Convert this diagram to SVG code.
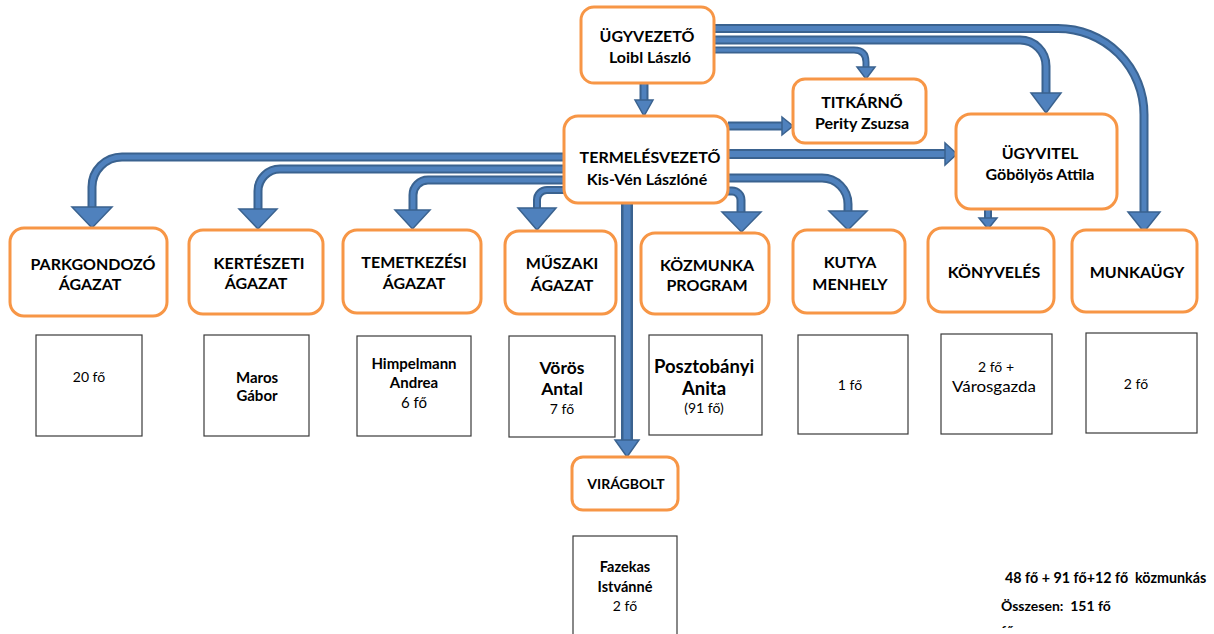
<svg xmlns="http://www.w3.org/2000/svg" width="1214" height="634" viewBox="0 0 1214 634">
<style>
text{font-family:Lato,"Liberation Sans",sans-serif;fill:#000;text-anchor:middle}
.b{font-weight:bold}
.nt{font-size:16px;font-weight:bold}
.node{fill:#fff;stroke:#F79646;stroke-width:3}
.box{fill:#fff;stroke:#3a3a3a;stroke-width:1.2}
.so{fill:none;stroke:#3A628F}
.si{fill:none;stroke:#4F81BD}
.hd{fill:#4F81BD;stroke:#3A628F;stroke-width:1.5;stroke-linejoin:miter}
</style>
<defs>
<clipPath id="clipBottom"><rect x="0" y="0" width="1214" height="628"/></clipPath>
</defs>
<rect width="1214" height="634" fill="#fff"/>

<g id="connectors">
  <!-- UGYVEZETO -> TERMELESVEZETO -->
  <path class="so" stroke-width="9" d="M644,83 V101"/><path class="si" stroke-width="5" d="M644,83 V101"/>
  <polygon class="hd" points="635,100 653,100 644,116"/>
  <!-- UGYVEZETO -> TITKARNO -->
  <path class="so" stroke-width="7" d="M714,50 H854 Q866,50 866,62 V68"/><path class="si" stroke-width="3.5" d="M714,50 H854 Q866,50 866,62 V68"/>
  <polygon class="hd" points="857,67 875,67 866,79"/>
  <!-- UGYVEZETO -> UGYVITEL -->
  <path class="so" stroke-width="9" d="M714,40 H1020 A26,26 0 0 1 1046,66 V94"/><path class="si" stroke-width="5" d="M714,40 H1020 A26,26 0 0 1 1046,66 V94"/>
  <polygon class="hd" points="1031,93 1061,93 1046,113"/>
  <!-- UGYVEZETO -> MUNKAUGY -->
  <path class="so" stroke-width="9" d="M714,28.5 H1058 A86,86 0 0 1 1144,114.5 V213"/><path class="si" stroke-width="5" d="M714,28.5 H1058 A86,86 0 0 1 1144,114.5 V213"/>
  <polygon class="hd" points="1128,212 1160,212 1144,232"/>
  <!-- TERMELES -> TITKARNO -->
  <path class="so" stroke-width="9" d="M728,126 H783"/><path class="si" stroke-width="5" d="M728,126 H783"/>
  <polygon class="hd" points="782,117 782,135 793,126"/>
  <!-- TERMELES -> UGYVITEL -->
  <path class="so" stroke-width="10" d="M728,154 H946"/><path class="si" stroke-width="6" d="M728,154 H946"/>
  <polygon class="hd" points="945,143 945,165 957,154"/>
  <!-- TERMELES -> KUTYA -->
  <path class="so" stroke-width="9" d="M728,178 H822 A26,26 0 0 1 848,204 V212"/><path class="si" stroke-width="5" d="M728,178 H822 A26,26 0 0 1 848,204 V212"/>
  <polygon class="hd" points="829,211 867,211 848,230"/>
  <!-- TERMELES -> KOZMUNKA -->
  <path class="so" stroke-width="9" d="M722,191 H732 A9,9 0 0 1 741,200 V213"/><path class="si" stroke-width="5" d="M722,191 H732 A9,9 0 0 1 741,200 V213"/>
  <polygon class="hd" points="722,212 761,212 741.5,232"/>
  <!-- TERMELES -> MUSZAKI -->
  <path class="so" stroke-width="8" d="M570,190 H547 A10,10 0 0 0 537,200 V209"/><path class="si" stroke-width="4" d="M570,190 H547 A10,10 0 0 0 537,200 V209"/>
  <polygon class="hd" points="518,208 556,208 537,230"/>
  <!-- TERMELES -> TEMETKEZESI -->
  <path class="so" stroke-width="9" d="M570,180 H428 A15,15 0 0 0 413,195 V211"/><path class="si" stroke-width="5" d="M570,180 H428 A15,15 0 0 0 413,195 V211"/>
  <polygon class="hd" points="395,210 430,210 412.5,229"/>
  <!-- TERMELES -> KERTESZETI -->
  <path class="so" stroke-width="9" d="M570,169 H280 A22,22 0 0 0 258,191 V210"/><path class="si" stroke-width="5" d="M570,169 H280 A22,22 0 0 0 258,191 V210"/>
  <polygon class="hd" points="239,209 277,209 258,229"/>
  <!-- TERMELES -> PARKGONDOZO -->
  <path class="so" stroke-width="9" d="M570,157 H122 A30,30 0 0 0 92,187 V208"/><path class="si" stroke-width="5" d="M570,157 H122 A30,30 0 0 0 92,187 V208"/>
  <polygon class="hd" points="72,207 112,207 92,228"/>
  <!-- TERMELES -> VIRAGBOLT -->
  <path class="so" stroke-width="12" d="M627,200 V441"/><path class="si" stroke-width="7" d="M627,200 V441"/>
  <polygon class="hd" points="615,440 639,440 627,457"/>
  <!-- UGYVITEL -> KONYVELES -->
  <path class="so" stroke-width="8" d="M988,209 V219"/><path class="si" stroke-width="4" d="M988,209 V219"/>
  <polygon class="hd" points="979,218 997,218 988,229"/>
</g>

<g id="n-ugyvezeto">
  <rect class="node" x="581" y="7" width="133" height="76" rx="13"/>
  <text class="nt" x="647" y="42">ÜGYVEZETŐ</text>
  <text class="nt" x="650" y="63">Loibl László</text>
</g>
<g id="n-titkarno">
  <rect class="node" x="793" y="79" width="133" height="64" rx="12"/>
  <text class="nt" x="862" y="108">TITKÁRNŐ</text>
  <text class="nt" x="862" y="129">Perity Zsuzsa</text>
</g>
<g id="n-termelesvezeto">
  <rect class="node" x="564" y="116" width="164" height="87" rx="14"/>
  <text class="nt" x="650" y="163">TERMELÉSVEZETŐ</text>
  <text class="nt" x="647" y="185">Kis-Vén Lászlóné</text>
</g>
<g id="n-ugyvitel">
  <rect class="node" x="956" y="114" width="161" height="95" rx="15"/>
  <text class="nt" x="1040" y="159">ÜGYVITEL</text>
  <text class="nt" x="1040" y="180">Göbölyös Attila</text>
</g>
<g id="n-parkgondozo">
  <rect class="node" x="10" y="228" width="157" height="88" rx="14"/>
  <text class="nt" x="93" y="270">PARKGONDOZÓ</text>
  <text class="nt" x="90" y="290">ÁGAZAT</text>
</g>
<g id="n-kerteszeti">
  <rect class="node" x="189" y="230" width="134" height="84" rx="14"/>
  <text class="nt" x="259" y="269">KERTÉSZETI</text>
  <text class="nt" x="256" y="289">ÁGAZAT</text>
</g>
<g id="n-temetkezesi">
  <rect class="node" x="343" y="230" width="138" height="83" rx="14"/>
  <text class="nt" x="414" y="268">TEMETKEZÉSI</text>
  <text class="nt" x="414" y="289">ÁGAZAT</text>
</g>
<g id="n-muszaki">
  <rect class="node" x="505" y="231" width="111" height="83" rx="14"/>
  <text class="nt" x="562" y="269">MŰSZAKI</text>
  <text class="nt" x="562" y="291">ÁGAZAT</text>
</g>
<g id="n-kozmunka">
  <rect class="node" x="641" y="233" width="128" height="81" rx="14"/>
  <text class="nt" x="707" y="271">KÖZMUNKA</text>
  <text class="nt" x="707" y="291">PROGRAM</text>
</g>
<g id="n-kutya">
  <rect class="node" x="793" y="230" width="112" height="83" rx="14"/>
  <text class="nt" x="850" y="268">KUTYA</text>
  <text class="nt" x="850" y="290">MENHELY</text>
</g>
<g id="n-konyveles">
  <rect class="node" x="928" y="228" width="126" height="84" rx="14"/>
  <text class="nt" x="994" y="278">KÖNYVELÉS</text>
</g>
<g id="n-munkaugy">
  <rect class="node" x="1072" y="230" width="125" height="82" rx="14"/>
  <text class="nt" x="1137" y="278">MUNKAÜGY</text>
</g>
<g id="n-viragbolt">
  <rect class="node" x="572" y="457" width="106" height="53" rx="11"/>
  <text class="b" x="626" y="489" font-size="14">VIRÁGBOLT</text>
</g>

<g id="b-parkgondozo">
  <rect class="box" x="36" y="335" width="106" height="101"/>
  <text x="89" y="382" font-size="14">20 fő</text>
</g>
<g id="b-kerteszeti">
  <rect class="box" x="204" y="335" width="105" height="101"/>
  <text class="b" x="257" y="383" font-size="15">Maros</text>
  <text class="b" x="257" y="401" font-size="15">Gábor</text>
</g>
<g id="b-temetkezesi">
  <rect class="box" x="357" y="336" width="114" height="100"/>
  <text class="b" x="414" y="369" font-size="15">Himpelmann</text>
  <text class="b" x="414" y="388" font-size="15">Andrea</text>
  <text x="414" y="408" font-size="15">6 fő</text>
</g>
<g id="b-muszaki">
  <rect class="box" x="509" y="336" width="106" height="101"/>
  <text class="b" x="562" y="374" font-size="17.5">Vörös</text>
  <text class="b" x="562" y="395" font-size="17.5">Antal</text>
  <text x="562" y="414" font-size="14">7 fő</text>
</g>
<g id="b-kozmunka">
  <rect class="box" x="649" y="335" width="113" height="100"/>
  <text class="b" x="704" y="373" font-size="18.5">Posztobányi</text>
  <text class="b" x="704" y="395" font-size="18.5">Anita</text>
  <text x="704" y="413" font-size="14">(91 fő)</text>
</g>
<g id="b-kutya">
  <rect class="box" x="798" y="335" width="110" height="99"/>
  <text x="850" y="390" font-size="14">1 fő</text>
</g>
<g id="b-konyveles">
  <rect class="box" x="941" y="334" width="111" height="100"/>
  <text x="996" y="372" font-size="14">2 fő +</text>
  <text x="994" y="392" font-size="15" textLength="84" lengthAdjust="spacingAndGlyphs">Városgazda</text>
</g>
<g id="b-munkaugy">
  <rect class="box" x="1086" y="333" width="111" height="100"/>
  <text x="1136" y="389" font-size="14">2 fő</text>
</g>
<g id="b-viragbolt">
  <rect class="box" x="573" y="536" width="104" height="110"/>
  <text class="b" x="625" y="572" font-size="14.5">Fazekas</text>
  <text class="b" x="625" y="592" font-size="14.5">Istvánné</text>
  <text x="625" y="611" font-size="14">2 fő</text>
</g>

<g id="summary" clip-path="url(#clipBottom)">
  <text class="b" x="1005" y="583" font-size="14.3" style="text-anchor:start" xml:space="preserve">48 fő + 91 fő+12 fő  közmunkás</text>
  <text class="b" x="1001" y="611" font-size="14" style="text-anchor:start" xml:space="preserve">Összesen:  151 fő</text>
  <text class="b" x="1001" y="636" font-size="14" style="text-anchor:start">fő</text>
</g>
</svg>
